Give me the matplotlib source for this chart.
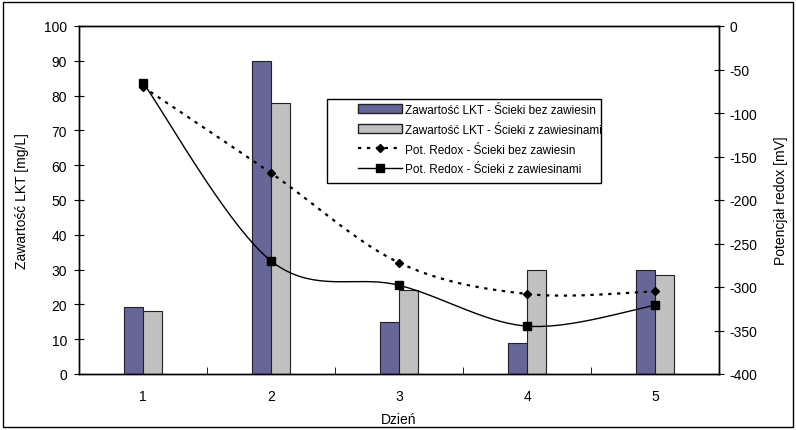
import numpy as np
import matplotlib
matplotlib.use('Agg')
import matplotlib.pyplot as plt
from matplotlib.patches import Rectangle, Patch
from matplotlib.lines import Line2D

plt.rcParams['font.family'] = ['Liberation Sans', 'DejaVu Sans']
plt.rcParams['axes.unicode_minus'] = False

days = [1, 2, 3, 4, 5]
day_labels = ['1', '2', '3', '4', '5']
lkt_bez = [19.3, 90, 15, 9, 30]
lkt_z = [18, 78, 24, 30, 28.5]
redox_bez = [-70, -169, -272, -308, -305]
redox_z = [-65, -270, -298, -345, -321]

labels = ['Zawartość LKT - Ścieki bez zawiesin',
          'Zawartość LKT - Ścieki z zawiesinami',
          'Pot. Redox - Ścieki bez zawiesin',
          'Pot. Redox - Ścieki z zawiesinami']


def smooth(x, y, n=40):
    # excel-like smoothed line (catmull-rom bezier)
    p = np.column_stack([x, y]).astype(float)
    pts = np.vstack([p[0], p, p[-1]])
    out = []
    t = np.linspace(0, 1, n)[:, None]
    for i in range(1, len(pts) - 2):
        p0, p1 = pts[i], pts[i + 1]
        c1 = p0 + (pts[i + 1] - pts[i - 1]) / 6
        c2 = p1 - (pts[i + 2] - pts[i]) / 6
        seg = ((1 - t) ** 3) * p0 + 3 * ((1 - t) ** 2) * t * c1 + 3 * (1 - t) * t ** 2 * c2 + t ** 3 * p1
        out.append(seg)
    out = np.vstack(out)
    return out[:, 0], out[:, 1]


fig = plt.figure(figsize=(7.96, 4.31), dpi=100)
# outer chart border
fig.patches.append(Rectangle((3 / 796, 3 / 431), 790 / 796, 425 / 431, transform=fig.transFigure,
                             fill=False, edgecolor='black', linewidth=1))

ax = fig.add_axes([79 / 796, 56 / 431, 640 / 796, 348 / 431])
x = np.array(days)
w = 0.148
ax.bar(x - w / 2, lkt_bez, w, color='#666699', edgecolor='#222222', linewidth=0.8)
ax.bar(x + w / 2, lkt_z, w, color='#C0C0C0', edgecolor='#222222', linewidth=0.8)
ax.set_xlim(0.5, 5.5)
ax.set_ylim(0, 100)
ax.set_yticks(np.arange(0, 101, 10))
ax.set_xticks(x)
ax.set_xticklabels(day_labels)
ax.set_xticks(np.arange(1.5, 5.5, 1), minor=True)
ax.tick_params(axis='x', which='major', length=0, labelsize=10, pad=11)
ax.tick_params(axis='x', which='minor', direction='in', length=5)
ax.tick_params(axis='y', direction='inout', length=7, labelsize=10, pad=5)
ax.set_xlabel('Dzień', fontsize=10, labelpad=6)
ax.set_ylabel('Zawartość LKT [mg/L]', fontsize=10, labelpad=11)

ax2 = ax.twinx()
ax2.set_ylim(-400, 0)
ax2.set_yticks(np.arange(-400, 1, 50))
ax2.tick_params(axis='y', direction='inout', length=7, labelsize=10, pad=4)
ax2.set_ylabel('Potencjał redox [mV]', fontsize=10, labelpad=12)

sx, sy = smooth(days, redox_bez)
ax2.plot(sx, sy, color='black', linestyle=(0, (1.5, 2.5)), linewidth=1.6)
ax2.plot(days, redox_bez, linestyle='none', marker='D', markersize=4.5, color='black')
sx, sy = smooth(days, redox_z)
ax2.plot(sx, sy, color='black', linewidth=1)
ax2.plot(days, redox_z, linestyle='none', marker='s', markersize=6, color='black')

for a in (ax, ax2):
    for s in a.spines.values():
        s.set_linewidth(1)
        s.set_color('black')

# legend box drawn separately so handles can sit inset like in excel
fig.patches.append(Rectangle((327 / 796, 1 - 184 / 431), 274 / 796, 84 / 431, transform=fig.transFigure,
                             facecolor='white', edgecolor='black', linewidth=1, zorder=3))
handles = [Patch(facecolor='#666699', edgecolor='#222222'),
           Patch(facecolor='#C0C0C0', edgecolor='#222222'),
           Line2D([], [], color='black', linestyle=(0, (1.5, 2.5)), linewidth=1.6, marker='D', markersize=4.5),
           Line2D([], [], color='black', linewidth=1, marker='s', markersize=6)]
leg = fig.legend(handles, labels, loc='upper left', bbox_to_anchor=(358 / 796, 1 - 105 / 431),
                 fontsize=8.5, frameon=False, handlelength=3.7, handleheight=0.8, handletextpad=0.3,
                 labelspacing=0.66, borderpad=0, borderaxespad=0)
leg.set_zorder(4)

plt.savefig('out.png', dpi=100)
